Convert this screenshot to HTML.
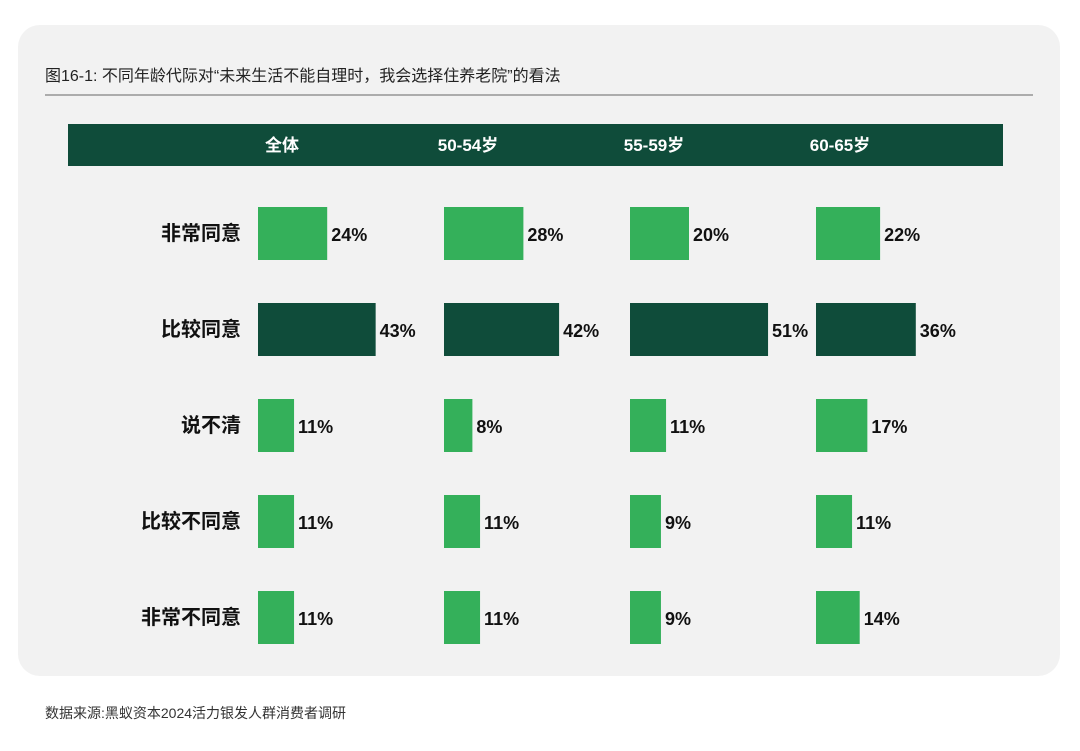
<!DOCTYPE html>
<html><head><meta charset="utf-8"><style>
body{margin:0;width:1080px;height:746px;background:#fff;font-family:"Liberation Sans","Noto Sans CJK SC",sans-serif;overflow:hidden}
</style></head><body>
<svg width="1080" height="746" xmlns="http://www.w3.org/2000/svg">
<rect x="18" y="25" width="1042" height="651" rx="22" fill="#f2f2f2"/>
<text x="45" y="81" font-size="16" fill="#222" font-family="Liberation Sans,Noto Sans CJK SC,sans-serif">图16-1: 不同年龄代际对“未来生活不能自理时，我会选择住养老院”的看法</text>
<line x1="45" y1="95" x2="1033" y2="95" stroke="#666" stroke-width="1"/>
<rect x="68" y="124" width="935" height="42" fill="#0f4c3a"/>
<g id="g"></g>
<text x="45" y="718" font-size="14" fill="#333" font-family="Liberation Sans,Noto Sans CJK SC,sans-serif">数据来源:黑蚁资本2024活力银发人群消费者调研</text>
</svg>
<script>
const groups=["全体","50-54岁","55-59岁","60-65岁"];
const categories=["非常同意","比较同意","说不清","比较不同意","非常不同意"];
const allAges=[24,43,11,11,11];
const age5054=[28,42,8,11,11];
const age5559=[20,51,11,9,9];
const age6065=[22,36,17,11,14];
const series=[allAges,age5054,age5559,age6065];
const NS="http://www.w3.org/2000/svg";
const g=document.getElementById('g');
const colX=i=>258+i*186;
const rowY=j=>207+j*96;
const barW=v=>8+v*2.55;
function mk(t,a){const e=document.createElementNS(NS,t);for(const k in a)e.setAttribute(k,a[k]);g.appendChild(e);return e;}
groups.forEach((name,i)=>{
 const t=mk('text',{x:colX(i)+24,y:151,'font-size':17,'font-weight':'bold',fill:'#fff','text-anchor':'middle'});
 t.textContent=name;
 
 
});
categories.forEach((c,j)=>{
 const t=mk('text',{x:241,y:rowY(j)+33,'font-size':20,'font-weight':'bold',fill:'#111','text-anchor':'end'});
 t.textContent=c;
 
 
});
series.forEach((vals,i)=>{
 vals.forEach((v,j)=>{
  const w=barW(v);
  const r=mk('rect',{x:colX(i),y:rowY(j),width:w,height:53,fill:j===1?'#0f4c3a':'#34b05a'});
  
  
  const t=mk('text',{x:colX(i)+w+4,y:rowY(j)+34,'font-size':18,'font-weight':'bold',fill:'#111'});
  t.textContent=v+'%';
  
  
 });
});
</script>
</body></html>
